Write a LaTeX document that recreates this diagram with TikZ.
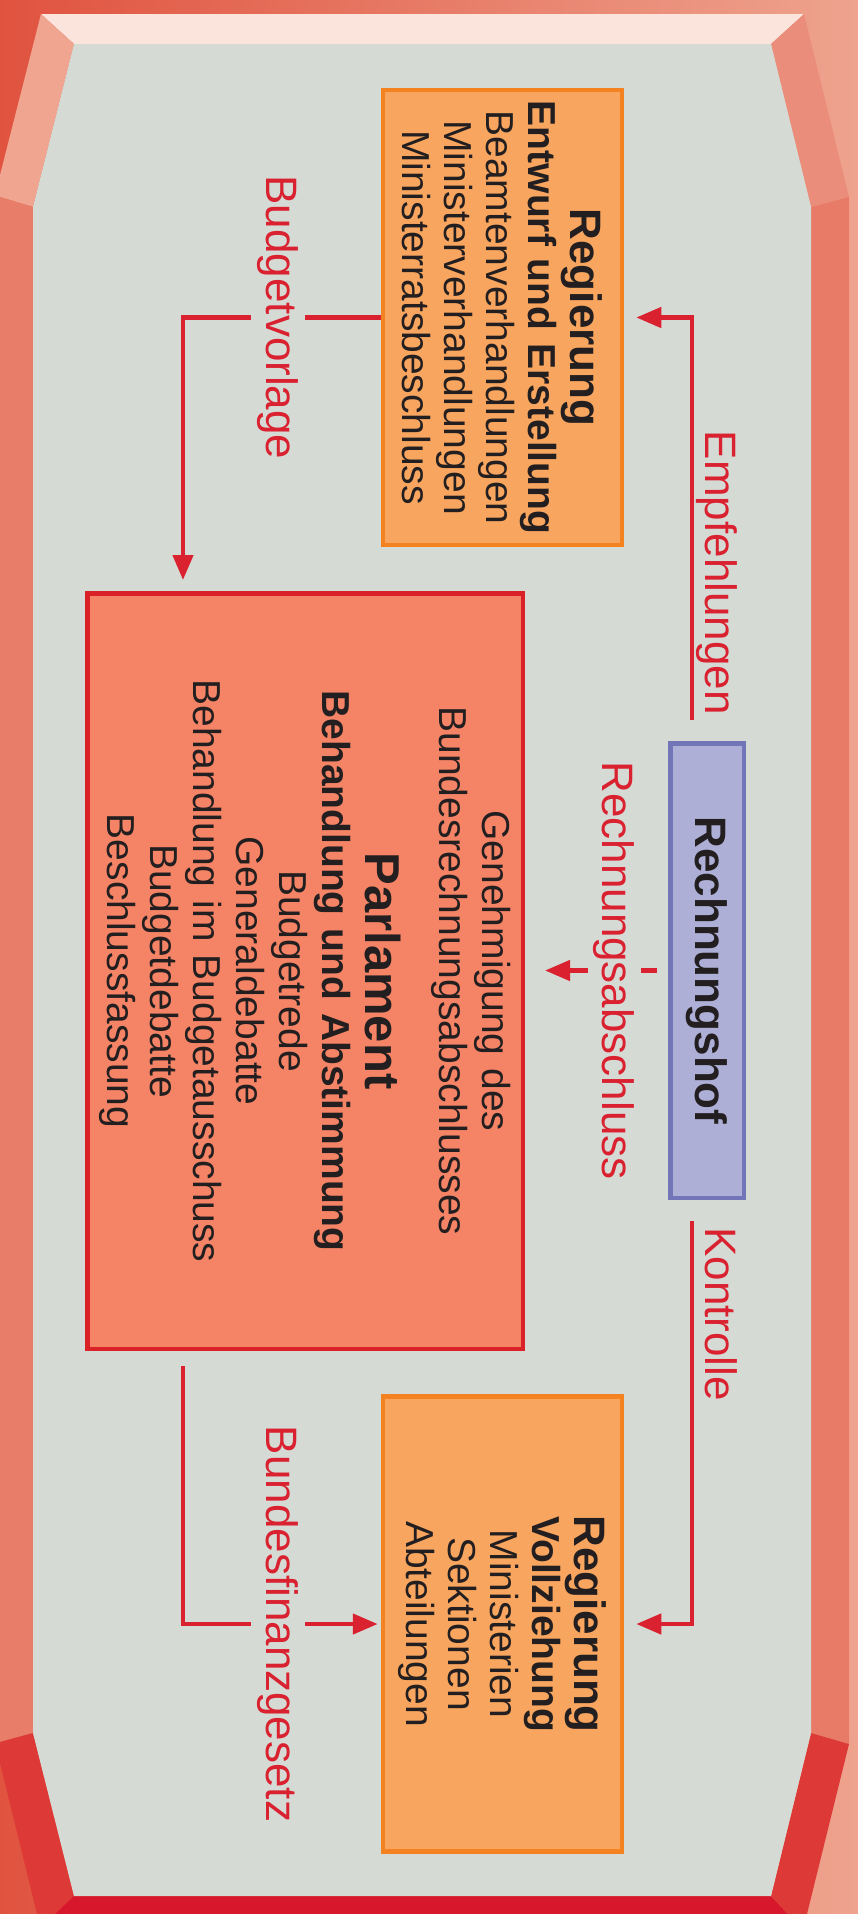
\documentclass[tikz,border=0pt]{standalone}
\usepackage{fontspec}
\setmainfont{Liberation Sans}
\usetikzlibrary{arrows.meta,positioning}

\definecolor{bgGray}{HTML}{D5DAD4}
\definecolor{govFill}{HTML}{F8A55F}
\definecolor{govBorder}{HTML}{F58220}
\definecolor{parlFill}{HTML}{F58466}
\definecolor{parlRed}{HTML}{DA2128}
\definecolor{rhFill}{HTML}{ADAFD7}
\definecolor{rhBorder}{HTML}{7276B8}
\definecolor{flowRed}{HTML}{DA2130}
\definecolor{txtDark}{HTML}{231F20}

\begin{document}
\begin{tikzpicture}[
        x=1pt, y=-1pt,
        every node/.style={rotate=-90, align=center, text=txtDark, font=\fontsize{39}{42}\selectfont},
        every path/.style={line width=4.5pt},
        govbox/.style={draw=govBorder, fill=govFill, minimum width=455pt, minimum height=239pt, text width=445pt},
        parlbox/.style={draw=parlRed, fill=parlFill, minimum width=755.5pt, minimum height=435.5pt, text width=740pt, font=\fontsize{39}{43}\selectfont},
        rhbox/.style={draw=rhBorder, fill=rhFill, minimum width=454.5pt, minimum height=73.5pt},
        flow/.style={draw=flowRed, -{Triangle[length=25pt,width=20pt]}},
        flowlabel/.style={text=flowRed, font=\fontsize{44}{50}\selectfont, fill=bgGray, inner sep=6pt},
        sidelabel/.style={text=flowRed, font=\fontsize{44}{50}\selectfont, inner sep=0pt}
    ]
  \useasboundingbox (0,0) rectangle (858,1914);

  % Frame
  \shade[left color={rgb,255:red,224;green,83;blue,63}, right color={rgb,255:red,238;green,163;blue,142}] (0,0) rectangle (858,1914);
  \fill[color={rgb,255:red,251;green,228;blue,219}] (41,14) -- (804,14) -- (771,44) -- (74,44) -- cycle;
  \fill[color={rgb,255:red,240;green,165;blue,145}] (41,14) -- (74,44) -- (33,207) -- (0,197) -- (0,175) -- cycle;
  \fill[color={rgb,255:red,232;green,125;blue,105}] (0,197) -- (33,207) -- (33,1733) -- (0,1742) -- cycle;
  \fill[color={rgb,255:red,221;green,58;blue,55}] (0,1742) -- (33,1733) -- (74,1896) -- (55,1914) -- (37,1914) -- (0,1763) -- cycle;
  \fill[color={rgb,255:red,215;green,23;blue,43}] (74,1896) -- (771,1896) -- (788,1914) -- (55,1914) -- cycle;
  \fill[color={rgb,255:red,234;green,141;blue,122}] (804,14) -- (771,44) -- (811,207) -- (849,197) -- cycle;
  \fill[color={rgb,255:red,231;green,123;blue,104}] (811,207) -- (849,197) -- (849,1744) -- (811,1733) -- cycle;
  \fill[color={rgb,255:red,221;green,58;blue,55}] (811,1733) -- (849,1744) -- (807,1914) -- (788,1914) -- (771,1896) -- cycle;
  \fill[bgGray] (74,44) -- (771,44) -- (811,207) -- (811,1733) -- (771,1896) -- (74,1896) -- (33,1733) -- (33,207) -- cycle;

  % Nodes
  \node[govbox] (regE) at (502.5,317.5) {{\fontsize{44}{42}\selectfont\bfseries Regierung}\\
    \textbf{Entwurf und Erstellung}\\
    Beamtenverhandlungen\\
    Ministerverhandlungen\\
    Ministerratsbeschluss};
  \node[parlbox] (parl) at (305,971) {Genehmigung des\\
    Bundesrechnungsabschlusses\\[29pt]
    {\fontsize{49}{43}\selectfont\bfseries Parlament}\\
    \textbf{Behandlung und Abstimmung}\\
    Budgetrede\\
    Generaldebatte\\
    Behandlung im Budgetausschuss\\
    Budgetdebatte\\
    Beschlussfassung};
  \node[rhbox, font=\fontsize{44}{50}\selectfont\bfseries] (rh) at (707,970.5) {Rechnungshof};
  \node[govbox] (regV) at (502.5,1624) {{\fontsize{44}{42}\selectfont\bfseries Regierung}\\
    \textbf{Vollziehung}\\
    Ministerien\\
    Sektionen\\
    Abteilungen};

  \coordinate (leftRail) at (183,0);
  \coordinate (rightRail) at (692,0);

  % Arrows
  \draw[flow, shorten >=11pt] (regE.south) -| (leftRail |- parl.west);
  \draw[flow, shorten <=21pt, shorten >=12pt] (rightRail |- rh.west) |- (regE.north);
  \draw[flow, shorten <=21pt, shorten >=12pt] (rightRail |- rh.east) |- (regV.north);
  \draw[flow, shorten <=15pt, shorten >=3pt] (leftRail |- parl.east) |- (regV.south);
  \draw[flow, shorten <=11pt, shorten >=20pt] (rh.south) -- (rh.south -| parl.north);

  % Labels
  \node[flowlabel] (bvLabel) at (278,317.5) {Budgetvorlage};
  \node[flowlabel] (bfgLabel) at (278,1624) {Bundesfinanzgesetz};
  \node[flowlabel] (raLabel) at (614,970.5) {Rechnungsabschluss};
  \node[sidelabel, anchor=base east] (empLabel) at (705,717) {Empfehlungen};
  \node[sidelabel, anchor=base west] (konLabel) at (705,1225) {Kontrolle};
\end{tikzpicture}
\end{document}
